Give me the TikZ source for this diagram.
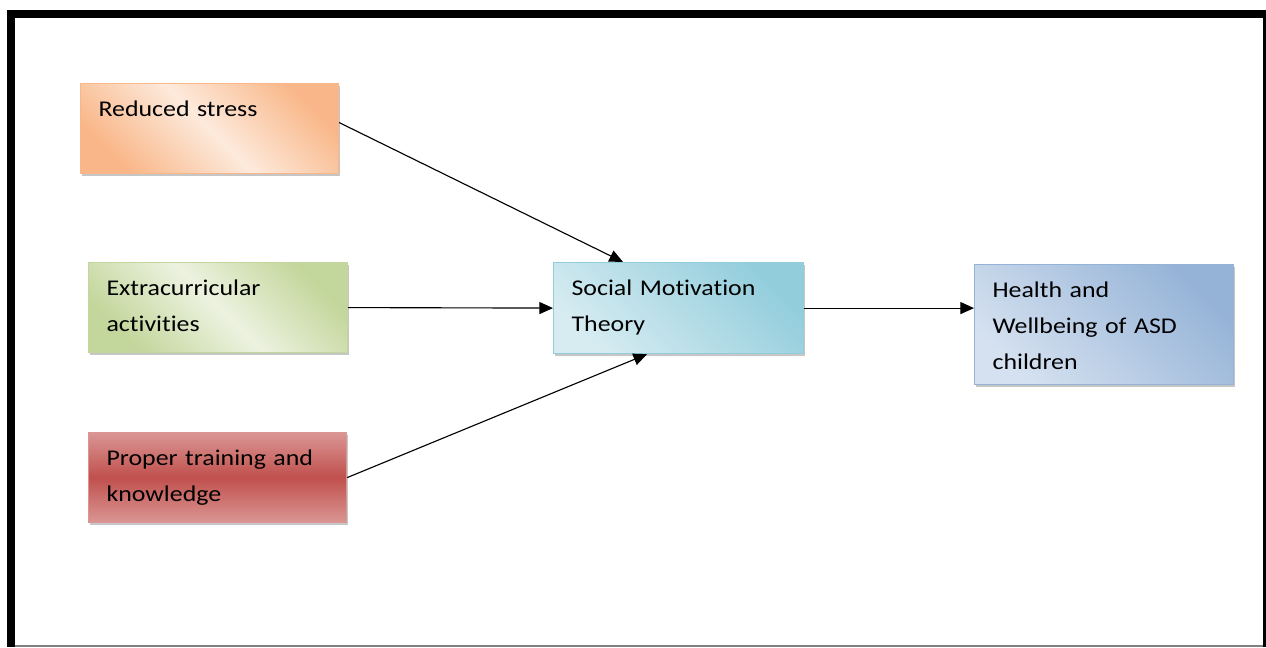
\documentclass[tikz,border=0pt]{standalone}
\usepackage{fontspec}
\setmainfont{Carlito}[FakeStretch=1.15,Ligatures=NoCommon]
\usepackage{tikz}
\usetikzlibrary{arrows.meta,positioning,shadows,calc}

\definecolor{orangeedge}{HTML}{F9B789}
\definecolor{orangemid}{HTML}{FDEADC}
\definecolor{greenedge}{HTML}{C3D69B}
\definecolor{greenmid}{HTML}{EDF2E0}
\definecolor{rededge}{HTML}{DA9694}
\definecolor{redmid}{HTML}{C0504D}
\definecolor{tealedge}{HTML}{92CDDC}
\definecolor{tealmid}{HTML}{E2F1F5}
\definecolor{blueedge}{HTML}{95B3D7}
\definecolor{bluemid}{HTML}{E0E9F4}

\begin{document}
\begin{tikzpicture}[x=0.025cm,y=-0.025cm,>={Triangle[length=0.34cm,width=0.3cm]},
               thick,font=\fontsize{16}{25.5}\selectfont,
               main node/.style={rectangle,draw,anchor=north west,inner xsep=0.45cm,
                 inner ysep=0pt,align=left,text height=0.825cm,text depth=1.425cm,
                 drop shadow={shadow xshift=0.04cm,shadow yshift=-0.07cm,opacity=0.45}}]
  \useasboundingbox (0,0) rectangle (1266,647);
  % frame
  \fill[black] (7,10) rectangle (15,647);
  \fill[black] (7,10) rectangle (1266,18);
  \fill[black] (1263,10) rectangle (1266,647);
  \draw[gray,line width=0.05cm] (15,646) -- (1263,646);

  \node[main node,minimum width=6.45cm,text width=5.55cm,draw=orangeedge,
        left color=orangeedge,right color=orangeedge,middle color=orangemid,shading angle=-45]
        (1) at (80,83) {Reduced stress};
  \node[main node,minimum width=6.475cm,text width=5.575cm,draw=greenedge,
        left color=greenedge,right color=greenedge,middle color=greenmid,shading angle=-45]
        (2) at (88,262) {Extracurricular\\activities};
  \node[main node,minimum width=6.45cm,text width=5.55cm,draw=rededge,
        top color=rededge,bottom color=rededge,middle color=redmid]
        (4) at (88,432) {Proper training and\\knowledge};
  \node[main node,minimum width=6.25cm,text width=5.35cm,draw=tealedge,text depth=1.45cm,
        left color=tealedge,right color=tealmid!85!tealedge,shading angle=-45]
        (3) at (553,262) {Social Motivation\\Theory};
  \node[main node,minimum width=6.475cm,text width=5.575cm,draw=blueedge,text depth=2.175cm,
        left color=blueedge,right color=bluemid!85!blueedge,shading angle=-45]
        (5) at (974,264) {Health and\\Wellbeing of ASD\\children};

  \path[->]
    ([yshift=0.15cm]1.east) edge ([xshift=1.75cm]3.north west)
    (2.east) edge (3.west)
    (4.east) edge ([xshift=2.35cm]3.south west)
    (3.east) edge (3.east -| 5.west)
  ;
\end{tikzpicture}
\end{document}
